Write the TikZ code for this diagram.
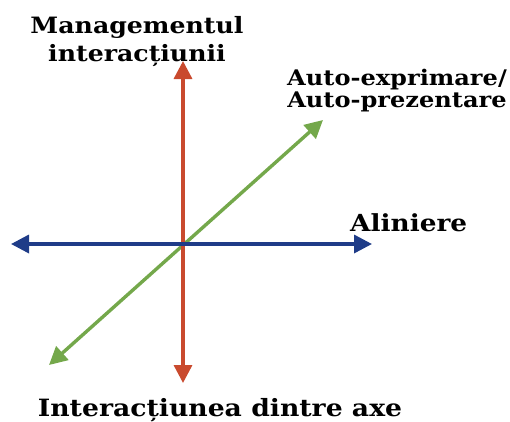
\documentclass[tikz,border=0pt]{standalone}
\usepackage{fontspec}
\setmainfont{DejaVu Serif}[FakeStretch=1.12]
\usetikzlibrary{arrows.meta}
\definecolor{axred}{HTML}{C94A2E}
\definecolor{axblue}{HTML}{1F3C88}
\definecolor{axgreen}{HTML}{74A84B}
\tikzset{
  axis/.style={line width=3.4pt,{Triangle[length=18pt,width=18pt]}-{Triangle[length=18pt,width=18pt]}},
  lbl/.style={font=\bfseries\fontsize{23.5}{28}\selectfont,align=center,inner sep=0pt}
}
\begin{document}
\begin{tikzpicture}[x=1pt,y=-1pt]
\useasboundingbox (0,0) rectangle (510,421);
\coordinate (rt) at (183,61);
\coordinate (rb) at (183,383);
\coordinate (bl) at (11,244);
\coordinate (br) at (372,244);
\coordinate (gl) at (49,365);
\coordinate (gr) at (323,120);
\draw[axis,axgreen] (gl) -- (gr);
\draw[axis,axred] (rb) -- (rt);
\draw[axis,axblue] (bl) -- (br);
\node[lbl,font=\bfseries\fontsize{22.5}{28}\selectfont] (mi) at (137,42) {Managementul\\interacțiunii};
\node[lbl,font=\bfseries\fontsize{21.5}{22}\selectfont] (ap) at (397,91) {Auto-exprimare/\\Auto-prezentare};
\node[lbl,anchor=base west] (al) at (350,231) {Aliniere};
\node[lbl,anchor=base,font=\bfseries\fontsize{23.8}{28}\selectfont] (ia) at (220,416) {Interacțiunea dintre axe};
\end{tikzpicture}
\end{document}
